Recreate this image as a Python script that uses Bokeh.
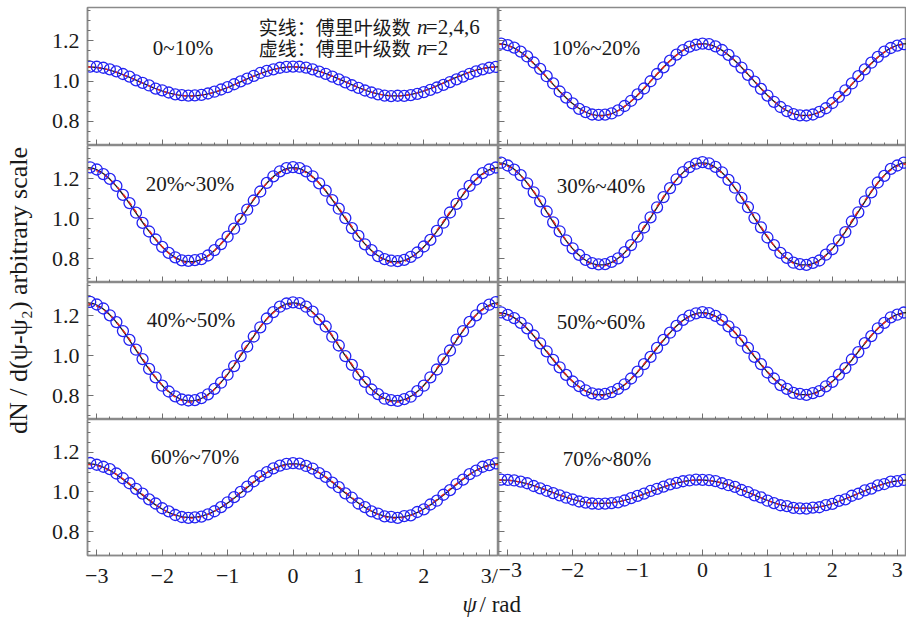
import numpy as np
from bokeh.plotting import figure
from bokeh.models import Range1d, FixedTicker, Label
from bokeh.layouts import gridplot, row, column
from bokeh.embed import file_html
from bokeh.resources import INLINE

# ---------------- data ----------------
PSI = [-3.1, -3.0, -2.9, -2.8, -2.7, -2.6, -2.5, -2.4, -2.3, -2.2, -2.1, -2.0, -1.9, -1.8, -1.7, -1.6,
       -1.5, -1.4, -1.3, -1.2, -1.1, -1.0, -0.9, -0.8, -0.7, -0.6, -0.5, -0.4, -0.3, -0.2, -0.1, 0.0,
       0.1, 0.2, 0.3, 0.4, 0.5, 0.6, 0.7, 0.8, 0.9, 1.0, 1.1, 1.2, 1.3, 1.4, 1.5, 1.6,
       1.7, 1.8, 1.9, 2.0, 2.1, 2.2, 2.3, 2.4, 2.5, 2.6, 2.7, 2.8, 2.9, 3.0, 3.1]

CENTRALITY = ["0~10%", "10%~20%", "20%~30%", "30%~40%", "40%~50%", "50%~60%", "60%~70%", "70%~80%"]

Y_0_10 = [1.072, 1.071, 1.066, 1.058, 1.048, 1.035, 1.022, 1.003, 0.991, 0.978,
          0.962, 0.954, 0.943, 0.934, 0.930, 0.928, 0.929, 0.931, 0.938, 0.947,
          0.958, 0.970, 0.984, 0.998, 1.012, 1.026, 1.040, 1.050, 1.058, 1.066, 1.070,
          1.072,
          1.071, 1.067, 1.058, 1.047, 1.036, 1.022, 1.008, 0.993, 0.979, 0.966,
          0.953, 0.943, 0.934, 0.928, 0.925, 0.927, 0.926, 0.930, 0.936, 0.945,
          0.956, 0.968, 0.981, 0.995, 1.008, 1.022, 1.036, 1.048, 1.058, 1.066, 1.070]
Y_10_20 = [1.186, 1.178, 1.166, 1.146, 1.122, 1.092, 1.060, 1.024, 0.988, 0.948,
           0.918, 0.889, 0.862, 0.846, 0.834, 0.832, 0.833, 0.839, 0.854, 0.876,
           0.902, 0.934, 0.963, 0.999, 1.035, 1.068, 1.101, 1.131, 1.153, 1.171, 1.180,
           1.186,
           1.183, 1.172, 1.154, 1.130, 1.098, 1.067, 1.031, 0.997, 0.961, 0.928,
           0.897, 0.871, 0.851, 0.836, 0.830, 0.829, 0.834, 0.847, 0.865, 0.891,
           0.921, 0.954, 0.988, 1.024, 1.058, 1.091, 1.120, 1.146, 1.164, 1.176, 1.183]
Y_20_30 = [1.256, 1.245, 1.222, 1.198, 1.163, 1.118, 1.077, 1.029, 0.978, 0.935,
           0.895, 0.858, 0.828, 0.806, 0.791, 0.788, 0.792, 0.797, 0.815, 0.842,
           0.872, 0.909, 0.949, 0.998, 1.044, 1.090, 1.135, 1.178, 1.211, 1.236, 1.252,
           1.257,
           1.252, 1.236, 1.211, 1.176, 1.139, 1.092, 1.049, 1.002, 0.952, 0.913,
           0.871, 0.842, 0.812, 0.797, 0.789, 0.787, 0.793, 0.808, 0.830, 0.860,
           0.893, 0.938, 0.979, 1.030, 1.073, 1.122, 1.163, 1.195, 1.227, 1.245, 1.255]
Y_30_40 = [1.279, 1.265, 1.244, 1.217, 1.176, 1.131, 1.086, 1.035, 0.981, 0.936,
           0.891, 0.851, 0.818, 0.793, 0.777, 0.771, 0.772, 0.783, 0.801, 0.832,
           0.867, 0.909, 0.955, 1.006, 1.056, 1.107, 1.152, 1.196, 1.232, 1.257, 1.274,
           1.282,
           1.276, 1.258, 1.231, 1.193, 1.154, 1.103, 1.057, 1.002, 0.956, 0.905,
           0.867, 0.828, 0.803, 0.779, 0.772, 0.768, 0.778, 0.790, 0.819, 0.847,
           0.891, 0.932, 0.985, 1.031, 1.086, 1.131, 1.180, 1.213, 1.248, 1.265, 1.279]
Y_40_50 = [1.268, 1.255, 1.235, 1.201, 1.167, 1.122, 1.078, 1.029, 0.982, 0.933,
           0.891, 0.849, 0.820, 0.796, 0.780, 0.775, 0.777, 0.787, 0.806, 0.833,
           0.864, 0.904, 0.947, 0.997, 1.045, 1.095, 1.141, 1.185, 1.217, 1.244, 1.260,
           1.266,
           1.262, 1.244, 1.219, 1.181, 1.145, 1.094, 1.050, 0.997, 0.953, 0.904,
           0.868, 0.830, 0.807, 0.784, 0.777, 0.773, 0.782, 0.794, 0.822, 0.849,
           0.891, 0.930, 0.981, 1.025, 1.079, 1.122, 1.168, 1.201, 1.234, 1.254, 1.267]
Y_50_60 = [1.216, 1.203, 1.187, 1.163, 1.136, 1.100, 1.061, 1.021, 0.978, 0.941,
           0.903, 0.870, 0.847, 0.826, 0.811, 0.805, 0.808, 0.817, 0.833, 0.856,
           0.885, 0.919, 0.957, 0.993, 1.038, 1.078, 1.114, 1.148, 1.178, 1.199, 1.211,
           1.217,
           1.212, 1.198, 1.178, 1.146, 1.116, 1.074, 1.038, 0.993, 0.957, 0.915,
           0.885, 0.852, 0.833, 0.813, 0.808, 0.803, 0.812, 0.822, 0.846, 0.868,
           0.904, 0.937, 0.980, 1.017, 1.062, 1.097, 1.136, 1.163, 1.191, 1.204, 1.215]
Y_60_70 = [1.146, 1.137, 1.127, 1.115, 1.093, 1.069, 1.044, 1.016, 0.992, 0.963,
           0.942, 0.918, 0.902, 0.884, 0.874, 0.870, 0.872, 0.876, 0.887, 0.903,
           0.924, 0.948, 0.974, 1.000, 1.027, 1.054, 1.080, 1.100, 1.119, 1.133, 1.141,
           1.145,
           1.143, 1.131, 1.118, 1.095, 1.076, 1.047, 1.024, 0.993, 0.971, 0.942,
           0.924, 0.902, 0.891, 0.877, 0.875, 0.870, 0.878, 0.882, 0.899, 0.912,
           0.937, 0.956, 0.986, 1.009, 1.040, 1.062, 1.090, 1.107, 1.127, 1.135, 1.144]
Y_70_80 = [1.062, 1.061, 1.058, 1.052, 1.044, 1.030, 1.018, 1.006, 0.994, 0.983,
           0.971, 0.962, 0.952, 0.946, 0.942, 0.940, 0.941, 0.944, 0.948, 0.957,
           0.969, 0.980, 0.992, 1.005, 1.016, 1.027, 1.038, 1.046, 1.054, 1.058, 1.062,
           1.061,
           1.060, 1.055, 1.044, 1.034, 1.026, 1.010, 0.999, 0.983, 0.973, 0.956,
           0.944, 0.933, 0.929, 0.920, 0.917, 0.916, 0.921, 0.923, 0.934, 0.940,
           0.955, 0.963, 0.981, 0.991, 1.008, 1.017, 1.033, 1.040, 1.052, 1.055, 1.061]

Y_DATA = [Y_0_10, Y_10_20, Y_20_30, Y_30_40, Y_40_50, Y_50_60, Y_60_70, Y_70_80]
for _y in Y_DATA:
    assert len(_y) == len(PSI)

# Fourier-series fit coefficients
FIT_MEAN = [0.998, 1.005, 1.013, 1.017, 1.012, 1.005, 1.003, 0.995]
FIT_S1 = [0.0, 0.0, 0.0, 0.0, 0.0, 0.0, 0.0, -0.012]
FIT_C2 = [0.072, 0.178, 0.235, 0.255, 0.245, 0.205, 0.135, 0.065]
FIT_C4 = [0.000, 0.002, 0.006, 0.006, 0.006, 0.004, 0.004, 0.000]
FIT_C6 = [0.0, 0.0, 0.0, 0.0, 0.0, 0.0, 0.0, 0.0]

X_TICKS = [-3, -2, -1, 0, 1, 2, 3]
X_LABELS_LEFT = ["\u22123", "\u22122", "\u22121", "0", "1", "2", "3/"]
X_LABELS_RIGHT = ["\u22123", "\u22122", "\u22121", "0", "1", "2", "3"]
Y_TICKS = [0.8, 1.0, 1.2]
Y_LABELS = ["0.8", "1.0", "1.2"]
X_MINOR = [round(-3.0 + 0.2 * i, 1) for i in range(31)]
Y_MINOR = [round(0.70 + 0.05 * i, 2) for i in range(14)]

Y_TITLE = "dN / d(\u03c8-\u03c8\u2082) arbitrary scale"
LEG1 = "实线：傅里叶级数"
LEG2 = "虚线：傅里叶级数"
LEG1_N = "=2,4,6"
LEG2_N = "=2"

# ---------------- style ----------------
SERIF = "Liberation Serif"
CJK = "Noto Sans CJK SC"
TXT = "#1a1a1a"
FRAME = "#8a8a8a"
TICK = "#707070"
LABEL_POS = [(-1.681, 1.165), (-1.640, 1.165), (-1.575, 1.175), (-1.563, 1.165),
             (-1.560, 1.180), (-1.563, 1.170), (-1.499, 1.175), (-1.470, 1.165)]
ROW_FRAME_H = [138, 137, 137, 138]
TOP_PAD = 7
BOTTOM_PAD = 33
XLAB_H = 28

PSI_FINE = np.linspace(-np.pi, np.pi, 361)


def style_axis(ax, ticks, minor, labels, show):
    ax.ticker = FixedTicker(ticks=ticks, minor_ticks=minor)
    ax.axis_line_color = FRAME
    ax.axis_line_width = 1.5
    ax.major_tick_in = 6
    ax.major_tick_out = 0
    ax.minor_tick_in = 3
    ax.minor_tick_out = 0
    ax.major_tick_line_color = TICK
    ax.minor_tick_line_color = TICK
    ax.major_tick_line_width = 1
    ax.minor_tick_line_width = 1
    if show:
        ax.major_label_overrides = {float(t): s for t, s in zip(ticks, labels)}
        ax.major_label_text_font = SERIF
        ax.major_label_text_font_size = "22px"
        ax.major_label_text_color = TXT
    else:
        ax.major_label_overrides = {float(t): "" for t in ticks}
        ax.major_label_text_font_size = "0px"
        ax.major_label_standoff = 0


panels = []
for i in range(8):
    r, c = divmod(i, 2)
    left = c == 0
    bottom = r == 3
    top = r == 0
    h = ROW_FRAME_H[r] + (TOP_PAD if top else 0) + (BOTTOM_PAD if bottom else 0)
    p = figure(width=450 if left else 408, height=h,
               x_range=Range1d(-np.pi, np.pi), y_range=Range1d(0.68, 1.365),
               output_backend="svg", toolbar_location=None,
               min_border_left=37 if left else 0, min_border_right=0,
               min_border_top=TOP_PAD if top else 0,
               min_border_bottom=BOTTOM_PAD if bottom else 0)
    p.xgrid.visible = False
    p.ygrid.visible = False
    p.outline_line_color = FRAME
    p.outline_line_width = 1.5
    p.background_fill_color = "white"
    p.border_fill_color = "white"

    style_axis(p.xaxis[0], X_TICKS, X_MINOR,
               X_LABELS_LEFT if left else X_LABELS_RIGHT, bottom)
    if bottom:
        p.xaxis[0].major_label_standoff = 7
    style_axis(p.yaxis[0], Y_TICKS, Y_MINOR, Y_LABELS, left)
    if left:
        p.yaxis[0].major_label_standoff = 8

    n2 = FIT_MEAN[i] + FIT_S1[i] * np.sin(PSI_FINE) + FIT_C2[i] * np.cos(2 * PSI_FINE)
    full = n2 + FIT_C4[i] * np.cos(4 * PSI_FINE) + FIT_C6[i] * np.cos(6 * PSI_FINE)
    p.line(PSI_FINE, full, line_color="#1a1a1a", line_width=1.3)
    p.line(PSI_FINE, n2, line_color="#e8231f", line_width=1.4, line_dash="5 4")
    p.scatter(PSI, Y_DATA[i], marker="circle", size=11, fill_color=None,
              line_color="#2323f2", line_width=1.3)

    lx, ly = LABEL_POS[i]
    p.add_layout(Label(x=lx, y=ly, text=CENTRALITY[i], text_font=SERIF,
                       text_font_size="21px", text_color=TXT,
                       text_align="center", text_baseline="alphabetic"))
    if i == 0:
        for yy, t1, t2 in ((1.27, LEG1, LEG1_N), (1.165, LEG2, LEG2_N)):
            p.add_layout(Label(x=-0.525, y=yy, text=t1, text_font=CJK,
                               text_font_size="19px", text_color=TXT,
                               text_align="left", text_baseline="middle"))
            p.add_layout(Label(x=1.894, y=yy, text="n", text_font=SERIF,
                               text_font_style="italic",
                               text_font_size="21px", text_color=TXT,
                               text_align="left", text_baseline="middle"))
            p.add_layout(Label(x=2.031, y=yy, text=t2, text_font=SERIF,
                               text_font_size="21px", text_color=TXT,
                               text_align="left", text_baseline="middle"))
    panels.append(p)

grid = gridplot([[panels[0], panels[1]], [panels[2], panels[3]],
                 [panels[4], panels[5]], [panels[6], panels[7]]],
                toolbar_location=None)

YLAB_H = sum(ROW_FRAME_H) + TOP_PAD
ylab = figure(width=48, height=YLAB_H, x_range=Range1d(0, 48), y_range=Range1d(0, YLAB_H),
              x_axis_type=None, y_axis_type=None, output_backend="svg",
              toolbar_location=None, min_border=0, outline_line_color=None)
ylab.xgrid.visible = False
ylab.ygrid.visible = False
ylab.add_layout(Label(x=18, y=YLAB_H - 290, text=Y_TITLE, angle=np.pi / 2, text_font=SERIF,
                      text_font_size="26px", text_color=TXT,
                      text_align="center", text_baseline="middle"))

xlab = figure(width=858, height=XLAB_H, x_range=Range1d(0, 858), y_range=Range1d(0, XLAB_H),
              x_axis_type=None, y_axis_type=None, output_backend="svg",
              toolbar_location=None, min_border=0, outline_line_color=None)
xlab.xgrid.visible = False
xlab.ygrid.visible = False
xlab.add_layout(Label(x=414, y=XLAB_H - 1, text="\u03c8", text_font=SERIF,
                      text_font_style="italic",
                      text_font_size="23px", text_color=TXT,
                      text_align="left", text_baseline="top"))
xlab.add_layout(Label(x=431, y=XLAB_H - 1, text="/ rad", text_font=SERIF,
                      text_font_size="23px", text_color=TXT,
                      text_align="left", text_baseline="top"))

layout = row(ylab, column(grid, xlab))

open("out.html", "w").write(file_html(layout, INLINE))
